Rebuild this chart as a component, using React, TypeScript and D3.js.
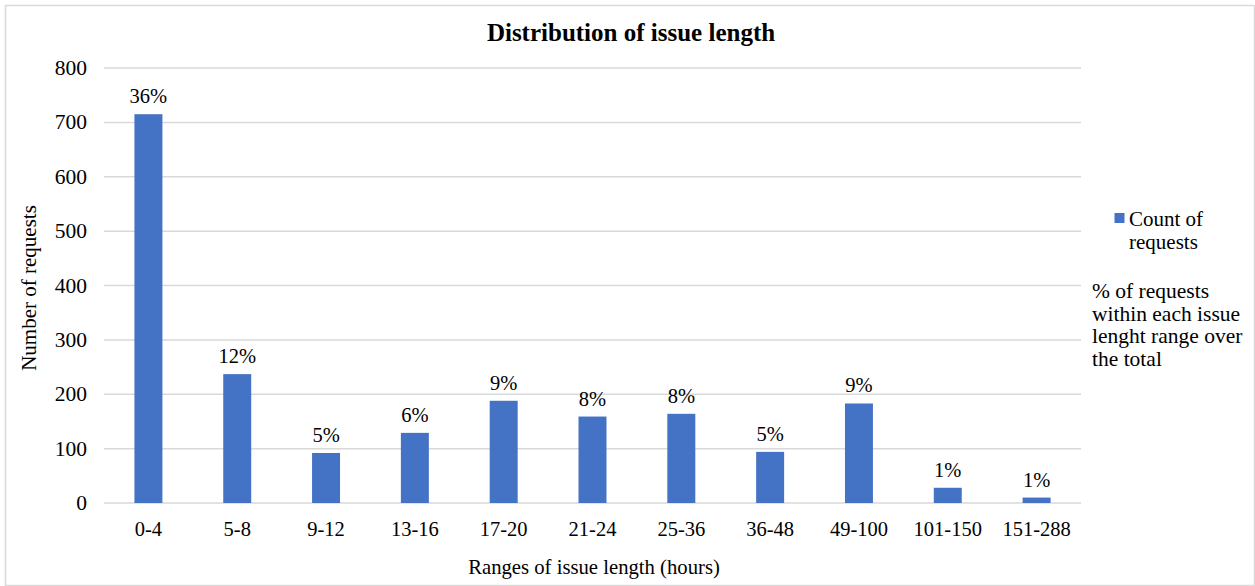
import React from "react";
import * as d3 from "d3";

const categories = ["0-4", "5-8", "9-12", "13-16", "17-20", "21-24", "25-36", "36-48", "49-100", "101-150", "151-288"];
const counts = [715, 237, 92, 129, 188, 159, 164, 94, 183, 28, 10];
const percentLabels = ["36%", "12%", "5%", "6%", "9%", "8%", "8%", "5%", "9%", "1%", "1%"];
const yTicks = [0, 100, 200, 300, 400, 500, 600, 700, 800];
const legendSeries = ["Count of", "requests"];
const legendNote = ["% of requests", "within each issue", "lenght range over", "the total"];

const W = 1255;
const H = 586;
const FONT = "'Liberation Serif', 'Times New Roman', serif";
const BLUE = "#4472C4";
const GRID = "#d9d9d9";

export default function App() {
  const x = d3
    .scaleBand<string>()
    .domain(categories)
    .range([104, 1081])
    .paddingInner(0.685)
    .paddingOuter(0.3425);
  const y = d3.scaleLinear().domain([0, 800]).range([503, 68]);

  return (
    <svg width={W} height={H} style={{ position: "absolute", left: 0, top: 0, background: "#fff" }} fontFamily={FONT}>
      <rect x={5.5} y={5.5} width={W - 6} height={H - 6} fill="#fff" stroke={GRID} strokeWidth={1.5} />
      <text x={631} y={41} textAnchor="middle" fontSize={25} fontWeight="bold" fill="#000">
        Distribution of issue length
      </text>
      {yTicks.map((t) => (
        <g key={t}>
          <line x1={104} x2={1081} y1={y(t)} y2={y(t)} stroke={GRID} strokeWidth={1.5} />
          <text x={87} y={y(t) + 7} textAnchor="end" fontSize={21.5} fill="#000">
            {t}
          </text>
        </g>
      ))}
      {categories.map((c, i) => {
        const bx = x(c)!;
        const bw = x.bandwidth();
        return (
          <g key={c}>
            <rect x={bx} y={y(counts[i])} width={bw} height={y(0) - y(counts[i])} fill={BLUE} />
            <text x={bx + bw / 2} y={y(counts[i]) - 11} textAnchor="middle" fontSize={20.5} fill="#000">
              {percentLabels[i]}
            </text>
            <text x={bx + bw / 2} y={536} textAnchor="middle" fontSize={20.5} fill="#000">
              {c}
            </text>
          </g>
        );
      })}
      <text x={594} y={574} textAnchor="middle" fontSize={20.7} fill="#000">
        Ranges of issue length (hours)
      </text>
      <text transform="translate(36,288) rotate(-90)" textAnchor="middle" fontSize={21} fill="#000">
        Number of requests
      </text>
      <rect x={1114.5} y={213} width={10} height={10} fill={BLUE} />
      {legendSeries.map((s, i) => (
        <text key={s} x={1129} y={226 + i * 22.5} fontSize={21} fill="#000">
          {s}
        </text>
      ))}
      {legendNote.map((s, i) => (
        <text key={s} x={1092} y={298 + i * 22.5} fontSize={21.5} fill="#000">
          {s}
        </text>
      ))}
    </svg>
  );
}
